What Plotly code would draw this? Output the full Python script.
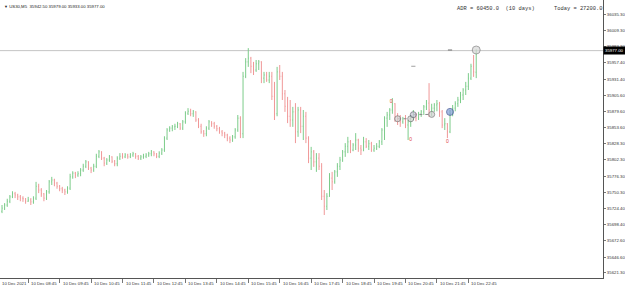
import plotly.graph_objects as go

symbol_text = "US30,M5  35942.50 35979.00 35933.00 35977.00"
adr_text = "ADR = 60450.0  (10 days)"
today_text = "Today = 27200.0"
current_price = 35977.0

opens = [
    35720,35725,35730,35736,35743,35748,35746,35743,35741,35740,
    35736,35738,35735,35741,35760,35754,35748,35741,35751,35767,
    35770,35765,35760,35756,35754,35751,35757,35775,35781,35778,
    35780,35786,35792,35799,35789,35786,35792,35808,35815,35805,
    35797,35802,35807,35800,35796,35805,35808,35807,35810,35807,
    35810,35812,35808,35805,35807,35808,35810,35812,35815,35812,
    35808,35813,35818,35837,35850,35853,35855,35856,35860,35853,
    35863,35877,35880,35876,35879,35866,35856,35847,35844,35853,
    35863,35860,35856,35852,35847,35845,35842,35837,35834,35839,
    35850,35869,35844,35936,35959,35965,35952,35946,35956,35959,
    35933,35938,35930,35936,35904,35876,35943,35936,35908,35888,
    35872,35866,35879,35847,35882,35856,35872,35837,35805,35815,
    35799,35805,35792,35744,35728,35744,35773,35767,35783,35792,
    35802,35815,35824,35831,35818,35826,35834,35821,35818,35831,
    35824,35828,35818,35821,35824,35831,35850,35869,35874,35882,
    35892,35869,35866,35863,35868,35858,35863,35871,35876,35869,
    35876,35879,35887,35893,35882,35885,35890,35892,35879,35858,
    35860,35847,35876,35885,35892,35898,35906,35914,35920,35933,
    35952,35942.5,
]
highs = [
    35730,35733,35740,35746,35752,35751,35748,35746,35744,35741,
    35743,35741,35744,35767,35764,35757,35749,35754,35770,35775,
    35772,35767,35762,35759,35756,35760,35780,35784,35783,35784,
    35789,35796,35802,35800,35791,35796,35812,35818,35816,35807,
    35805,35810,35808,35802,35808,35813,35813,35813,35812,35813,
    35815,35813,35810,35810,35812,35813,35815,35818,35816,35813,
    35816,35821,35840,35853,35856,35858,35860,35863,35861,35866,
    35880,35885,35884,35882,35880,35869,35860,35850,35856,35866,
    35864,35863,35858,35855,35850,35847,35844,35840,35842,35853,
    35874,35872,35943,35965,35981,35967,35959,35962,35962,35960,
    35943,35943,35943,35943,35927,35951,35954,35943,35914,35903,
    35898,35887,35893,35887,35887,35882,35879,35840,35823,35818,
    35813,35813,35797,35754,35749,35781,35783,35786,35797,35807,
    35818,35829,35839,35834,35829,35845,35836,35826,35839,35837,
    35834,35831,35826,35829,35834,35853,35872,35879,35885,35901,
    35893,35877,35874,35871,35874,35866,35874,35882,35877,35879,
    35882,35890,35898,35925,35892,35893,35898,35895,35882,35869,
    35861,35882,35890,35896,35903,35911,35917,35927,35941,35956,
    35970,35979,
]
lows = [
    35717,35722,35727,35733,35741,35741,35738,35736,35735,35732,
    35735,35730,35732,35738,35749,35743,35736,35738,35748,35762,
    35760,35756,35752,35749,35746,35748,35754,35772,35773,35775,
    35776,35783,35789,35786,35781,35783,35789,35805,35802,35792,
    35794,35799,35797,35792,35792,35802,35804,35805,35804,35805,
    35807,35804,35802,35802,35804,35805,35807,35808,35808,35805,
    35805,35810,35815,35834,35847,35848,35850,35853,35850,35850,
    35860,35874,35872,35871,35863,35853,35844,35839,35840,35850,
    35855,35852,35848,35844,35840,35837,35832,35829,35831,35836,
    35847,35837,35837,35933,35951,35941,35938,35943,35946,35925,
    35925,35927,35925,35898,35866,35872,35930,35898,35879,35861,
    35855,35855,35829,35839,35845,35834,35829,35797,35786,35791,
    35783,35786,35738,35714,35722,35743,35754,35764,35775,35786,
    35799,35807,35813,35813,35816,35818,35815,35810,35816,35821,
    35818,35815,35815,35818,35821,35826,35834,35855,35866,35876,
    35863,35858,35855,35860,35853,35834,35855,35866,35864,35866,
    35871,35874,35882,35871,35872,35879,35880,35871,35853,35850,
    35837,35845,35872,35880,35887,35893,35898,35906,35914,35930,
    35935,35933,
]
closes = [
    35725,35730,35736,35743,35748,35746,35743,35741,35740,35736,
    35738,35735,35741,35760,35754,35748,35741,35751,35767,35770,
    35765,35760,35756,35754,35751,35757,35775,35781,35778,35780,
    35786,35792,35799,35789,35786,35792,35808,35815,35805,35797,
    35802,35807,35800,35796,35805,35808,35807,35810,35807,35810,
    35812,35808,35805,35807,35808,35810,35812,35815,35812,35808,
    35813,35818,35837,35850,35853,35855,35856,35860,35853,35863,
    35877,35880,35876,35879,35866,35856,35847,35844,35853,35863,
    35860,35856,35852,35847,35845,35842,35837,35834,35839,35850,
    35869,35844,35936,35959,35965,35952,35946,35956,35959,35933,
    35938,35930,35936,35904,35876,35943,35936,35908,35888,35872,
    35866,35879,35847,35882,35856,35872,35837,35805,35815,35799,
    35805,35792,35744,35728,35744,35773,35767,35783,35792,35802,
    35815,35824,35831,35818,35826,35834,35821,35818,35831,35824,
    35828,35818,35821,35824,35831,35850,35869,35874,35882,35892,
    35869,35866,35863,35868,35858,35863,35871,35876,35869,35876,
    35879,35887,35893,35882,35885,35890,35892,35879,35858,35860,
    35847,35876,35885,35892,35898,35906,35914,35920,35933,35952,
    35943,35977,
]
bars = list(range(len(closes)))

hour_tick_bars = [10, 22, 34, 46, 58, 70, 82, 94, 106, 118, 130, 142, 154, 166, 178]
hour_labels = ["10 Dec 08:45", "10 Dec 09:45", "10 Dec 10:45", "10 Dec 11:45",
               "10 Dec 12:45", "10 Dec 13:45", "10 Dec 14:45", "10 Dec 15:45",
               "10 Dec 16:45", "10 Dec 17:45", "10 Dec 18:45", "10 Dec 19:45",
               "10 Dec 20:45", "10 Dec 21:45", "10 Dec 22:45"]
first_label = "10 Dec 2021"

price_ticks = [36035.3, 36009.3, 35983.3, 35957.4, 35931.4, 35905.6, 35879.6,
               35853.6, 35828.3, 35802.3, 35776.3, 35750.3, 35724.4, 35698.4,
               35672.6, 35646.6, 35621.3]
price_tick_text = ["36035.30", "36009.30", "35983.30", "35957.40", "35931.40",
                   "35905.60", "35879.60", "35853.60", "35828.30", "35802.30",
                   "35776.30", "35750.30", "35724.40", "35698.40", "35672.60",
                   "35646.60", "35621.30"]

# signal circles
sig_bars = [151, 156, 157, 164, 171, 181]
sig_prices = [35868, 35868, 35874.5, 35875, 35879, 35978]
sig_fill = ["#d4d4d4", "#d4d4d4", "#c8c8d8", "#d4d4d4", "#7f9bd6", "#d8d8d8"]
sig_line = ["#707070", "#707070", "#606070", "#707070", "#3a4f90", "#808080"]
sig_size = [6, 6, 6, 6, 7, 8]

# dotted connectors
link1_bars = [151, 156]
link1_prices = [35868, 35868]
link2_bars = [157, 164]
link2_prices = [35874.5, 35875]

# red zero labels
zero_bars = [148.5, 156, 170]
zero_prices = [35896, 35834, 35831]

# small dashes
dash_bars = [157, 171]
dash_prices = [35952, 35978]

fig = go.Figure()
fig.add_trace(go.Ohlc(
    x=bars, open=opens, high=highs, low=lows, close=closes,
    increasing=dict(line=dict(color="#7ccc8a", width=1)),
    decreasing=dict(line=dict(color="#f09898", width=1)),
    tickwidth=0.22, hoverinfo="skip", showlegend=False,
))
for bx, py in [(link1_bars, link1_prices), (link2_bars, link2_prices)]:
    fig.add_trace(go.Scatter(x=bx, y=py, mode="lines",
                             line=dict(color="#8a8a8a", width=1, dash="dot"),
                             hoverinfo="skip", showlegend=False))
fig.add_trace(go.Scatter(
    x=sig_bars, y=sig_prices, mode="markers",
    marker=dict(symbol="circle", size=sig_size, color=sig_fill,
                line=dict(color=sig_line, width=1)),
    hoverinfo="skip", showlegend=False))
fig.add_trace(go.Scatter(
    x=zero_bars, y=zero_prices, mode="text", text=["0"] * len(zero_bars),
    textfont=dict(family="Liberation Sans", size=5, color="#e04040"),
    hoverinfo="skip", showlegend=False))
fig.add_trace(go.Scatter(
    x=dash_bars, y=dash_prices, mode="markers",
    marker=dict(symbol="line-ew", size=3, line=dict(color=["#a0a0a0", "#707070"], width=1)),
    hoverinfo="skip", showlegend=False))

fig.add_hline(y=current_price, line=dict(color="#c4c4c4", width=1), layer="below")

tick_font = dict(family="Liberation Sans", size=4.3, color="#333333")
for b, lab in zip(hour_tick_bars, hour_labels):
    fig.add_annotation(x=b, y=0, xref="x", yref="paper", text=lab,
                       showarrow=False, xanchor="left", yanchor="top",
                       xshift=1, yshift=-1, font=tick_font)
fig.add_annotation(x=0, y=0, xref="paper", yref="paper", text=first_label,
                   showarrow=False, xanchor="left", yanchor="top",
                   yshift=-1, font=tick_font)
fig.add_annotation(x=0.003, y=1, xref="paper", yref="paper",
                   text="<span style='font-size:4px'>▼</span> " + symbol_text,
                   showarrow=False, xanchor="left", yanchor="top", yshift=-2,
                   font=dict(family="Liberation Sans", size=4.3, color="#222222"))
fig.add_annotation(x=455 / 603, y=1 - 9 / 278, xref="paper", yref="paper", text=adr_text,
                   showarrow=False, xanchor="left", yanchor="middle",
                   font=dict(family="Liberation Mono", size=5.4, color="#333333"))
fig.add_annotation(x=552 / 603, y=1 - 9 / 278, xref="paper", yref="paper", text=today_text,
                   showarrow=False, xanchor="left", yanchor="middle",
                   font=dict(family="Liberation Mono", size=5.4, color="#333333"))
fig.add_annotation(x=1, y=current_price, xref="paper", yref="y",
                   text="35977.00", showarrow=False, xanchor="left", yanchor="middle",
                   bgcolor="#000000", borderpad=1,
                   font=dict(family="Liberation Sans", size=4.3, color="#ffffff"))

fig.update_layout(
    width=625, height=286,
    margin=dict(l=0, r=22, t=0, b=8, pad=0),
    paper_bgcolor="#ffffff", plot_bgcolor="#ffffff",
    hovermode=False, showlegend=False,
    xaxis=dict(range=[-0.763, 229.39], showgrid=False, zeroline=False,
               rangeslider=dict(visible=False),
               showline=True, linecolor="#555555", linewidth=1,
               tickmode="array", tickvals=hour_tick_bars, ticktext=[""] * len(hour_tick_bars),
               ticks="outside", ticklen=4, tickcolor="#777777", tickwidth=1,
               showticklabels=False, fixedrange=True),
    yaxis=dict(range=[35613.2, 36058.0], side="right", showgrid=False, zeroline=False,
               showline=True, linecolor="#555555", linewidth=1,
               tickmode="array", tickvals=price_ticks, ticktext=price_tick_text,
               ticks="outside", ticklen=2, tickcolor="#777777",
               tickfont=tick_font, fixedrange=True),
)

fig.write_html("out.html", config={"displayModeBar": False})
